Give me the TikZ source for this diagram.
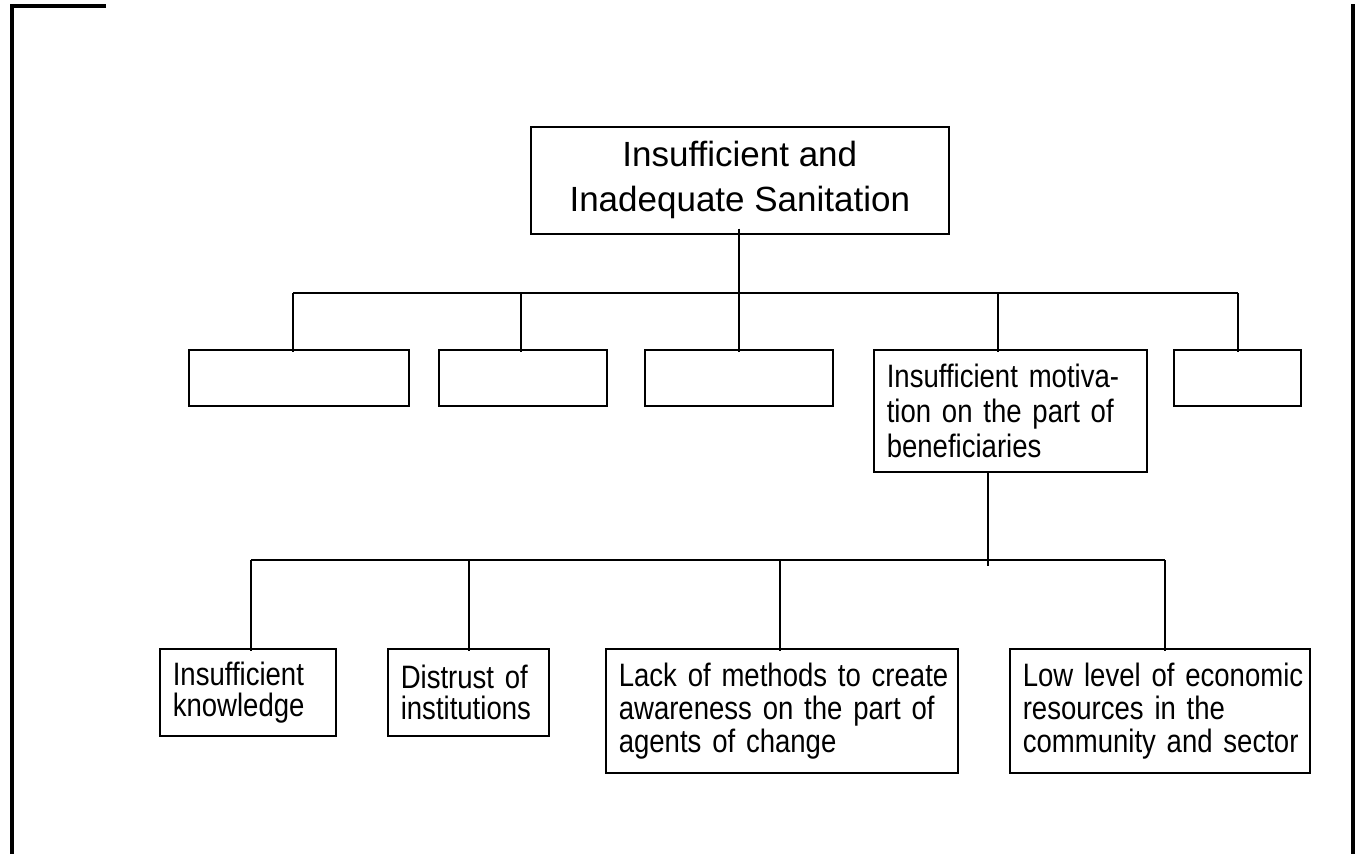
\documentclass[tikz,border=0pt]{standalone}
\usepackage{fontspec}
\setmainfont{Liberation Sans}
\newfontfamily\narrowsans[FakeStretch=0.85]{Liberation Sans}
\begin{document}
\begin{tikzpicture}[x=1pt,y=-1pt,
  box/.style={draw, line width=1.6pt, rectangle, anchor=north west, inner sep=0pt},
  tbox/.style={box, inner xsep=13pt, inner ysep=0pt, align=left},
  fa/.style={font=\narrowsans\fontsize{32.4}{31}\selectfont},
  fc/.style={font=\narrowsans\fontsize{32.4}{33}\selectfont},
  fm/.style={font=\narrowsans\fontsize{32.4}{35}\selectfont},
  conn/.style={line width=1.5pt},
  drop/.style={conn, shorten >=-3pt},
  framel/.style={line width=4pt, line join=miter}]
\useasboundingbox (0,0) rectangle (1358,854);
% frame
\coordinate (f1) at (106,6);
\coordinate (f2) at (12,6);
\coordinate (f3) at (12,858);
\coordinate (f4) at (1353,4);
\coordinate (f5) at (1353,858);
\draw[framel] (f1) -- (f2) -- (f3);
\draw[framel] (f4) -- (f5);
% top
\node[box, minimum width=418pt, minimum height=107pt, align=center,
      font=\fontsize{35}{45}\selectfont] (top) at (530,126)
      {Insufficient and\\Inadequate Sanitation};
% level 2
\node[box, minimum width=220pt, minimum height=56pt] (e1) at (188,349) {};
\node[box, minimum width=168pt, minimum height=56pt] (e2) at (438,349) {};
\node[box, minimum width=188pt, minimum height=56pt] (e3) at (644,349) {};
\node[tbox, fm, text width=247pt, minimum height=122pt] (m) at (873,349)
      {\mbox{Insufficient motiva-}\\\mbox{tion on the part of}\\\mbox{beneficiaries}};
\node[box, minimum width=127pt, minimum height=56pt] (e5) at (1173,349) {};
% level 3
\node[tbox, fa, text width=150pt, minimum height=87pt] (a) at (159,648)
      {\mbox{Insufficient}\\\mbox{knowledge}};
\node[tbox, fa, text width=135pt, minimum height=87pt] (b) at (387,648)
      {\mbox{Distrust of}\\\mbox{institutions}};
\node[tbox, fc, text width=326pt, minimum height=124pt] (c) at (605,648)
      {\mbox{Lack of methods to create}\\\mbox{awareness on the part of}\\\mbox{agents of change}};
\node[tbox, fc, text width=274pt, minimum height=124pt] (d) at (1009,648)
      {\mbox{Low level of economic}\\\mbox{resources in the}\\\mbox{community and sector}};
% connectors level 1-2
\coordinate (j1) at (293,293);
\coordinate (j2) at (521,293);
\coordinate (j3) at (739,293);
\coordinate (j4) at (998,293);
\coordinate (j5) at (1238,293);
\draw[conn, shorten <=-6pt] (top.south -| j3) -- (j3);
\draw[conn] (j1) -- (j5);
\draw[drop] (j1) -- (j1 |- e1.north);
\draw[drop] (j2) -- (j2 |- e2.north);
\draw[drop] (j3) -- (j3 |- e3.north);
\draw[drop] (j4) -- (j4 |- m.north);
\draw[drop] (j5) -- (j5 |- e5.north);
% connectors level 2-3
\coordinate (k0) at (988,560);
\coordinate (k1) at (251,560);
\coordinate (k2) at (469,560);
\coordinate (k3) at (780,560);
\coordinate (k4) at (1165,560);
\draw[conn, shorten >=-6pt] (m.south -| k0) -- (k0);
\draw[conn] (k1) -- (k4);
\draw[drop] (k1) -- (k1 |- a.north);
\draw[drop] (k2) -- (k2 |- b.north);
\draw[drop] (k3) -- (k3 |- c.north);
\draw[drop] (k4) -- (k4 |- d.north);
\end{tikzpicture}
\end{document}
